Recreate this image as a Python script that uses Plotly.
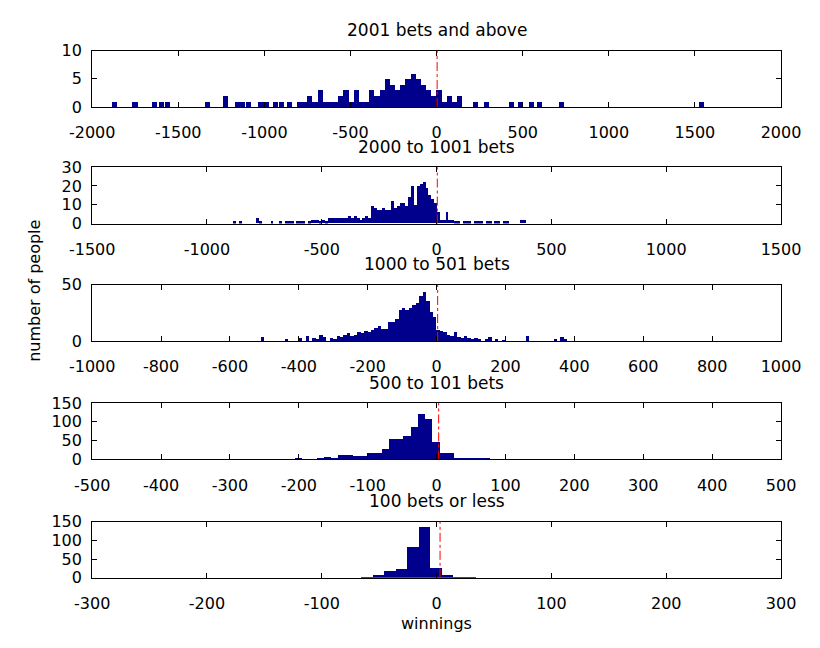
import plotly.graph_objects as go

# ---------------- data ----------------
titles = ["2001 bets and above", "2000 to 1001 bets", "1000 to 501 bets",
          "500 to 101 bets", "100 bets or less"]

# panel 1 : 2001 bets and above (bin width 30)
p1_width = 30
p1_centers = [-1870, -1750, -1635, -1597, -1560, -1328, -1227, -1157, -1124, -1090,
              -1020, -990, -935, -900, -855,
              -795, -765, -735, -705, -675, -645, -615, -585, -555, -525, -495, -465,
              -435, -405, -375, -345, -315, -285, -255, -225, -195, -165, -135, -105,
              -75, -45, -15, 15, 45, 75, 105, 135,
              225, 290, 435, 490, 550, 600, 725, 1540]
p1_counts = [1, 1, 1, 1, 1, 1, 2, 1, 1, 1,
             1, 1, 1, 1, 1,
             1, 1, 2, 1, 3, 1, 1, 1, 2, 3, 1, 3,
             1, 1, 3, 2, 3, 5, 4, 3, 4, 5, 6, 5,
             4, 3, 2, 3, 1, 2, 1, 2,
             1, 1, 1, 1, 1, 1, 1, 1]

# panel 2 : 2000 to 1001 bets (bins of 12.5 starting at -885)
p2_start = -885
p2_width = 12.5
p2_counts = [1, 0, 1, 0, 0, 0, 0, 0, 3, 1, 0, 0, 0, 1, 0, 0,
             1, 0, 1, 1, 1, 0, 1, 1, 1, 0, 1,
             2, 2,
             2, 1, 2, 1,
             3, 3, 3, 3, 3, 3, 3, 4, 3, 4, 3, 2, 3, 4, 3,
             9, 8, 7, 7, 8, 7, 7, 12, 8, 9, 11, 11, 9,
             14, 20, 10, 20, 21, 22, 19, 15, 13, 11,
             6, 2, 2, 6, 2, 2,
             1, 1, 0, 1, 1, 1, 0, 1, 1, 1, 0, 1, 1, 0, 1, 1, 0, 1,
             1, 0, 0, 0, 0, 2, 2, 0]

# panel 3 : 1000 to 501 bets (bins of 10 starting at -510)
p3_start = -510
p3_width = 10
p3_counts = [4, 0, 0, 0, 0, 0, 0, 2, 0, 0, 0, 3, 0, 5, 0, 3, 2, 6, 4, 0,
             3, 2, 5, 4, 6, 7, 5, 6, 8, 7, 9, 8, 10, 12, 14, 11, 11, 17, 17, 20,
             28, 30, 28, 30, 32, 34, 40, 44, 36, 26, 22,
             10, 9, 8, 6, 5, 8, 4, 3, 5, 3, 2, 3, 2, 0, 2, 4, 0, 2, 0, 1,
             0, 0, 0, 0, 0, 0, 5, 0, 0, 0, 0, 0, 0, 0, 2, 0, 4, 2]

# panel 4 : 500 to 101 bets (bin width 10.5)
p4_width = 10.5
p4_centers = [-200.25, -168.75, -158.25, -147.75, -137.25, -126.75, -116.25, -105.75,
              -95.25, -84.75, -74.25, -63.75, -53.25, -42.75, -32.25, -21.75, -11.25,
              -0.75, 9.75, 20.25, 30.75, 41.25, 51.75, 62.25, 72.75]
p4_counts = [3, 3, 7, 4, 11, 11, 9, 10,
             16, 16, 28, 55, 55, 63, 86, 122, 108,
             46, 18, 18, 2, 2, 2, 2, 2]

# panel 5 : 100 bets or less (bin width 10)
p5_width = 10
p5_centers = [-60.5, -50.5, -40.5, -30.5, -20.5, -10.5, -0.5, 9.5, 19.5, 29.5]
p5_counts = [3, 8, 20, 26, 84, 137, 28, 8, 3, 1]

# axis ranges / ticks
x_ranges = [(-2000, 2000), (-1500, 1500), (-1000, 1000), (-500, 500), (-300, 300)]
x_ticks = [[-2000, -1500, -1000, -500, 0, 500, 1000, 1500, 2000],
           [-1500, -1000, -500, 0, 500, 1000, 1500],
           [-1000, -800, -600, -400, -200, 0, 200, 400, 600, 800, 1000],
           [-500, -400, -300, -200, -100, 0, 100, 200, 300, 400, 500],
           [-300, -200, -100, 0, 100, 200, 300]]
y_ranges = [(0, 10), (0, 30), (0, 50), (0, 150), (0, 150)]
y_ticks = [[0, 5, 10], [0, 10, 20, 30], [0, 50], [0, 50, 100, 150], [0, 50, 100, 150]]
zero_line_x = [3, 3, 3, 3, 3]

# ---------------- build ----------------
W, H = 820, 648
X0, X1 = 73, 800
tops = [43, 163, 284, 406, 528]
PH = 58
FONT = "DejaVu Sans"
FS = 16
FS_TITLE = 17
BAR = "#00008c"

p2_centers = [p2_start + p2_width * (i + 0.5) for i in range(len(p2_counts))]
p3_centers = [p3_start + p3_width * (i + 0.5) for i in range(len(p3_counts))]

series = [(p1_centers, p1_counts, p1_width),
          (p2_centers, p2_counts, p2_width),
          (p3_centers, p3_counts, p3_width),
          (p4_centers, p4_counts, p4_width),
          (p5_centers, p5_counts, p5_width)]

fig = go.Figure()
layout = dict(
    width=W, height=H,
    margin=dict(l=0, r=0, t=0, b=0),
    paper_bgcolor="white", plot_bgcolor="white",
    showlegend=False, bargap=0,
    font=dict(family=FONT, size=FS, color="black"),
)
annotations = []
shapes = []
for k, (cx, cy, bw) in enumerate(series):
    n = k + 1
    xa = "x" if n == 1 else f"x{n}"
    ya = "y" if n == 1 else f"y{n}"
    fig.add_trace(go.Bar(x=cx, y=cy, width=[bw] * len(cx), xaxis=xa, yaxis=ya,
                         marker=dict(color=BAR, line=dict(width=0)),
                         hoverinfo="x+y"))
    top = tops[k]
    ydom = [1 - (top + PH) / H, 1 - top / H]
    xkey = "xaxis" if n == 1 else f"xaxis{n}"
    ykey = "yaxis" if n == 1 else f"yaxis{n}"
    layout[xkey] = dict(domain=[X0 / W, X1 / W], anchor=ya, range=list(x_ranges[k]),
                        tickmode="array", tickvals=x_ticks[k],
                        ticktext=[str(v) for v in x_ticks[k]],
                        ticks="inside", ticklen=5, tickwidth=1, tickcolor="black",
                        showline=True, linecolor="black", linewidth=1, mirror="ticks",
                        showgrid=False, zeroline=False, ticklabelstandoff=11,
                        tickfont=dict(family=FONT, size=FS, color="black"))
    layout[ykey] = dict(domain=ydom, anchor=xa, range=list(y_ranges[k]),
                        tickmode="array", tickvals=y_ticks[k],
                        ticktext=[str(v) for v in y_ticks[k]],
                        ticks="inside", ticklen=5, tickwidth=1, tickcolor="black",
                        showline=True, linecolor="black", linewidth=1, mirror="ticks",
                        showgrid=False, zeroline=False, ticklabelstandoff=6,
                        tickfont=dict(family=FONT, size=FS, color="black"))
    shapes.append(dict(type="line", xref=xa, yref=f"{ya} domain",
                       x0=zero_line_x[k], x1=zero_line_x[k], y0=0, y1=1,
                       line=dict(color="red", width=1, dash="dashdot"), layer="above"))
    annotations.append(dict(text=titles[k], xref="paper", yref="paper",
                            x=(X0 + X1) / 2 / W, y=1 - (top - 21) / H,
                            xanchor="center", yanchor="middle", showarrow=False,
                            font=dict(family=FONT, size=FS_TITLE, color="black")))

annotations.append(dict(text="winnings", xref="paper", yref="paper",
                        x=(X0 + X1) / 2 / W, y=1 - 633 / H, xanchor="center",
                        yanchor="middle", showarrow=False,
                        font=dict(family=FONT, size=FS, color="black")))
annotations.append(dict(text="number of people", xref="paper", yref="paper",
                        x=12 / W, y=1 - 290 / H, xanchor="center", yanchor="middle",
                        textangle=-90, showarrow=False,
                        font=dict(family=FONT, size=FS, color="black")))
layout["annotations"] = annotations
layout["shapes"] = shapes
fig.update_layout(**layout)
fig.write_html("out.html",
               config={"displayModeBar": False},
               post_script="document.body.style.margin='0';"
                           "document.body.style.overflow='hidden';")
